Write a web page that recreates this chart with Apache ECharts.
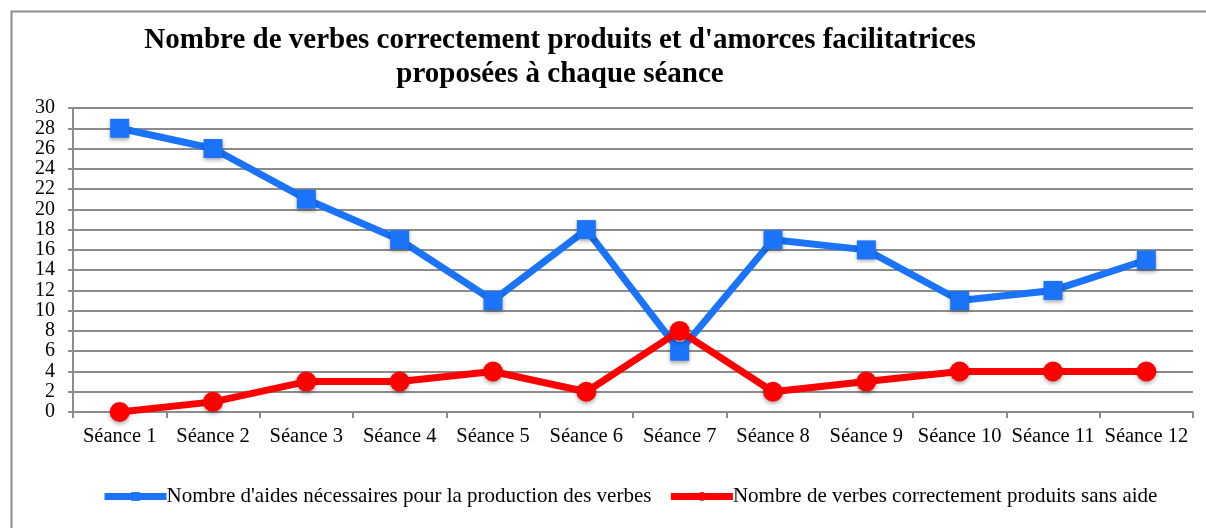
<!DOCTYPE html>
<html>
<head>
    <meta charset="UTF-8">
    <title>Séances</title>
    <script src="https://cdn.jsdelivr.net/npm/echarts@6/dist/echarts.min.js"></script>
    <style>
        html, body { margin: 0; padding: 0; background: #fff; }
        #main { width: 1206px; height: 528px; }
    </style>
</head>
<body>
<div id="main"></div>
<script type="text/javascript">
    // données
    var seances = ['Séance 1', 'Séance 2', 'Séance 3', 'Séance 4', 'Séance 5', 'Séance 6',
        'Séance 7', 'Séance 8', 'Séance 9', 'Séance 10', 'Séance 11', 'Séance 12'];
    var aides = [28, 26, 21, 17, 11, 18, 6, 17, 16, 11, 12, 15];
    var sansAide = [0, 1, 3, 3, 4, 2, 8, 2, 3, 4, 4, 4];
    var nomAides = "Nombre d'aides nécessaires pour la production des verbes";
    var nomSansAide = "Nombre de verbes correctement produits sans aide";

    var serif = '"Liberation Serif", "DejaVu Serif", serif';
    var myChart = echarts.init(document.getElementById('main'));

    var option = {
        animation: false,
        graphic: [{
            type: 'rect',
            shape: { x: 11.5, y: 11.5, width: 1210, height: 540 },
            style: { fill: 'none', stroke: '#8c8c8c', lineWidth: 2 }
        }],
        title: {
            text: "Nombre de verbes correctement produits et d'amorces facilitatrices\nproposées à chaque séance",
            left: 555,
            top: 19,
            textAlign: 'center',
            textStyle: {
                fontFamily: serif,
                fontWeight: 'bold',
                fontSize: 29,
                lineHeight: 34,
                color: '#000'
            }
        },
        legend: {
            bottom: 16,
            left: 96,
            itemWidth: 62,
            itemHeight: 11,
            itemGap: 16,
            lineStyle: { width: 7 },
            textStyle: { fontFamily: serif, fontSize: 21, color: '#000', padding: [0, 0, 0, -5] },
            data: [nomAides, nomSansAide]
        },
        grid: { left: 73, right: 13, top: 108, bottom: 116 },
        xAxis: {
            type: 'category',
            data: seances,
            boundaryGap: true,
            axisLine: { lineStyle: { color: '#8c8c8c', width: 2 } },
            axisTick: { show: true, length: 6, lineStyle: { color: '#8c8c8c', width: 2 } },
            axisLabel: { fontFamily: serif, fontSize: 20.5, color: '#000', margin: 14, interval: 0 }
        },
        yAxis: {
            type: 'value',
            min: 0,
            max: 30,
            interval: 2,
            axisLine: { show: true, lineStyle: { color: '#8c8c8c', width: 2 } },
            axisTick: { show: true, length: 5, lineStyle: { color: '#8c8c8c', width: 2 } },
            splitLine: { lineStyle: { color: '#8c8c8c', width: 2 } },
            axisLabel: { fontFamily: serif, fontSize: 20, color: '#000', margin: 18 }
        },
        series: [
            {
                name: nomAides,
                type: 'line',
                data: aides,
                symbol: 'rect',
                symbolSize: 19,
                lineStyle: { color: '#1a73f8', width: 7 },
                itemStyle: {
                    color: '#1a73f8',
                    shadowBlur: 4,
                    shadowOffsetY: 2,
                    shadowColor: 'rgba(0,0,0,0.35)'
                },
                z: 2
            },
            {
                name: nomSansAide,
                type: 'line',
                data: sansAide,
                symbol: 'circle',
                symbolSize: 20,
                lineStyle: { color: '#ff0000', width: 7 },
                itemStyle: {
                    color: '#ff0000',
                    shadowBlur: 4,
                    shadowOffsetY: 2,
                    shadowColor: 'rgba(0,0,0,0.35)'
                },
                z: 3
            }
        ]
    };
    myChart.setOption(option);
</script>
</body>
</html>
